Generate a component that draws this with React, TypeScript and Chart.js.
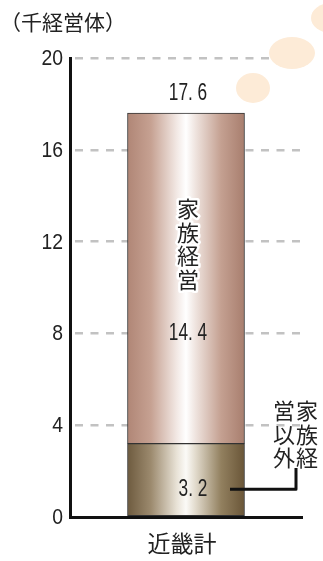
import React, { useEffect, useRef } from "react";
import { Chart, registerables } from "chart.js";

Chart.register(...registerables);

const unitLabel = "（千経営体）";
const categories = ["近畿計"];
const seriesNames = ["家族経営以外", "家族経営"];
const nonFamilyValues = [3.2];
const familyValues = [14.4];
const totalValues = [17.6];
const yTicks = [0, 4, 8, 12, 16, 20];

const NUM_FONT = '"Liberation Sans", Arial, sans-serif';
const JP_FONT = '"Noto Sans CJK JP", sans-serif';

function makeGradient(ctx: CanvasRenderingContext2D, x0: number, x1: number, stops: [number, string][]) {
  const g = ctx.createLinearGradient(x0, 0, x1, 0);
  stops.forEach(([o, c]) => g.addColorStop(o, c));
  return g;
}

const familyStops: [number, string][] = [
  [0, "#b08676"],
  [0.2, "#c6a192"],
  [0.42, "#f2e8e4"],
  [0.5, "#ffffff"],
  [0.58, "#efe4df"],
  [0.8, "#c4a091"],
  [1, "#a87e6e"],
];
const otherStops: [number, string][] = [
  [0, "#6e5b3f"],
  [0.2, "#9c8a6e"],
  [0.42, "#e8e2d6"],
  [0.5, "#fbfaf7"],
  [0.58, "#e2dbcd"],
  [0.8, "#92805f"],
  [1, "#6a5638"],
];

function barBg(stops: [number, string][], fallback: string) {
  return (c: any) => {
    const chart = c.chart;
    if (!chart.chartArea || !chart.scales.x) return fallback;
    const cx = chart.scales.x.getPixelForValue(c.dataIndex ?? 0);
    return makeGradient(chart.ctx, cx - 58.5, cx + 58.5, stops);
  };
}

function drawNum(ctx: CanvasRenderingContext2D, text: string, x: number, y: number, size: number, sx: number, align: CanvasTextAlign) {
  ctx.save();
  ctx.translate(x, y);
  ctx.scale(sx, 1);
  ctx.font = `${size}px ${NUM_FONT}`;
  ctx.textAlign = align;
  ctx.textBaseline = "middle";
  ctx.fillStyle = "#222";
  ctx.fillText(text, 0, 0);
  ctx.restore();
}

const fmt = (v: number) => v.toFixed(1).replace(".", ". ");

const decoPlugin = {
  id: "deco",
  beforeDatasetsDraw(chart: any) {
    const ctx = chart.ctx as CanvasRenderingContext2D;
    ctx.save();
    ctx.fillStyle = "#fdebd7";
    const ells = [
      [331, 18, 20, 15],
      [292, 53, 23, 16],
      [253, 88, 17, 15],
    ];
    ells.forEach(([x, y, rx, ry]) => {
      ctx.beginPath();
      ctx.ellipse(x, y, rx, ry, 0, 0, Math.PI * 2);
      ctx.fill();
    });
    ctx.restore();
  },
  afterDraw(chart: any) {
    const ctx = chart.ctx as CanvasRenderingContext2D;
    const xs = chart.scales.x;
    const ys = chart.scales.y;
    const cx = xs.getPixelForValue(0) + 2;
    const left = chart.chartArea.left;

    // y tick labels
    yTicks.forEach((v) => drawNum(ctx, String(v), left - 7, ys.getPixelForValue(v) + 1, 22, 0.88, "right"));

    ctx.save();
    ctx.fillStyle = "#222";
    ctx.textAlign = "left";
    ctx.textBaseline = "middle";
    ctx.font = `21px ${JP_FONT}`;
    ctx.fillText(unitLabel, 0, 22);

    // category label
    ctx.textAlign = "center";
    ctx.font = `23px ${JP_FONT}`;
    ctx.fillText(categories[0], xs.getPixelForValue(0) - 4, 543);

    // values
    drawNum(ctx, fmt(totalValues[0]), cx, ys.getPixelForValue(totalValues[0]) - 20, 24, 0.72, "center");
    const famMid = ys.getPixelForValue(nonFamilyValues[0] + familyValues[0] * 0.5);
    drawNum(ctx, fmt(familyValues[0]), cx, famMid + 55, 24, 0.72, "center");
    const otherMid = ys.getPixelForValue(nonFamilyValues[0] * 0.5);
    drawNum(ctx, fmt(nonFamilyValues[0]), cx + 5, otherMid + 9, 24, 0.72, "center");

    // vertical label inside bar with white halo
    ctx.font = `22px ${JP_FONT}`;
    ctx.textAlign = "center";
    ctx.textBaseline = "middle";
    const fam = seriesNames[1].split("");
    fam.forEach((ch, i) => {
      const y = 209 + i * 23.5;
      ctx.lineWidth = 5;
      ctx.strokeStyle = "#ffffff";
      ctx.lineJoin = "round";
      ctx.strokeText(ch, cx, y);
      ctx.fillStyle = "#222";
      ctx.fillText(ch, cx, y);
    });

    // legend callout
    const other = seriesNames[0].split("");
    const rightCol = other.slice(0, 3);
    const leftCol = other.slice(3);
    rightCol.forEach((ch, i) => ctx.fillText(ch, 307, 411 + i * 23.5));
    leftCol.forEach((ch, i) => ctx.fillText(ch, 284, 411 + i * 23.5));
    ctx.strokeStyle = "#111";
    ctx.lineWidth = 3;
    ctx.beginPath();
    ctx.moveTo(230, otherMid + 9);
    ctx.lineTo(296, otherMid + 9);
    ctx.lineTo(296, 468);
    ctx.stroke();
    ctx.restore();
  },
};

export default function App() {
  const ref = useRef<HTMLCanvasElement>(null);
  useEffect(() => {
    document.body.style.margin = "0";
    const chart = new Chart(ref.current!, {
      type: "bar",
      data: {
        labels: categories,
        datasets: [
          {
            label: seriesNames[0],
            data: nonFamilyValues,
            backgroundColor: barBg(otherStops, "#9c8a6e"),
            borderColor: "#333",
            borderWidth: 1,
            borderSkipped: false,
            barThickness: 117,
          },
          {
            label: seriesNames[1],
            data: familyValues,
            backgroundColor: barBg(familyStops, "#c6a192"),
            borderColor: "#333",
            borderWidth: 1,
            borderSkipped: false,
            barThickness: 117,
          },
        ],
      },
      options: {
        animation: false,
        responsive: false,
        maintainAspectRatio: false,
        layout: { padding: { top: 58, right: 21, left: 0, bottom: 0 } },
        plugins: { legend: { display: false }, tooltip: { enabled: false }, title: { display: false } },
        scales: {
          x: {
            stacked: true,
            grid: { display: false, drawTicks: false },
            border: { display: true, color: "#111", width: 3 },
            ticks: { display: false },
            afterFit: (s: any) => {
              s.height = 44;
            },
          },
          y: {
            stacked: true,
            min: 0,
            max: 20,
            afterBuildTicks: (s: any) => {
              s.ticks = yTicks.map((v) => ({ value: v }));
            },
            grid: {
              color: (c: any) => (c.tick && c.tick.value === 0 ? "rgba(0,0,0,0)" : "#c2c2c2"),
              lineWidth: 2.5,
              drawTicks: false,
            },
            border: { display: true, color: "#111", width: 3, dash: [8, 7.5], dashOffset: -3 },
            ticks: { display: false },
            afterFit: (s: any) => {
              s.width = 70;
            },
          },
        },
      },
      plugins: [decoPlugin],
    } as any);
    return () => chart.destroy();
  }, []);
  return <canvas ref={ref} width={323} height={561} style={{ display: "block" }} />;
}
